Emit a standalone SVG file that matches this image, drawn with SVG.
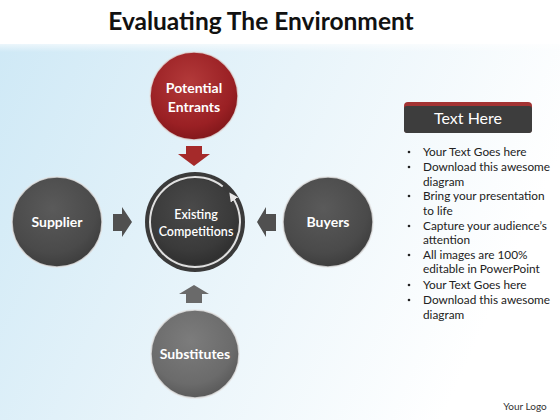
<svg xmlns="http://www.w3.org/2000/svg" width="560" height="420" viewBox="0 0 560 420">
<defs>
<linearGradient id="bg" x1="0" y1="0" x2="1" y2="0.3">
<stop offset="0" stop-color="#cfe9f6"/>
<stop offset="0.5" stop-color="#e8f4fa"/>
<stop offset="1" stop-color="#ffffff"/>
</linearGradient>
<linearGradient id="topfade" x1="0" y1="0" x2="0" y2="1">
<stop offset="0" stop-color="#ffffff" stop-opacity="1"/>
<stop offset="1" stop-color="#ffffff" stop-opacity="0"/>
</linearGradient>
<radialGradient id="gRed" cx="0.45" cy="0.35" r="0.7">
<stop offset="0" stop-color="#b33a3a"/>
<stop offset="0.7" stop-color="#9a2024"/>
<stop offset="1" stop-color="#7c1518"/>
</radialGradient>
<radialGradient id="gDark" cx="0.45" cy="0.35" r="0.7">
<stop offset="0" stop-color="#5a5a5a"/>
<stop offset="0.7" stop-color="#4a4a4a"/>
<stop offset="1" stop-color="#3a3a3a"/>
</radialGradient>
<radialGradient id="gCenter" cx="0.45" cy="0.35" r="0.7">
<stop offset="0" stop-color="#4a4a4a"/>
<stop offset="0.7" stop-color="#3a3a3a"/>
<stop offset="1" stop-color="#2c2c2c"/>
</radialGradient>
<radialGradient id="gLight" cx="0.45" cy="0.35" r="0.7">
<stop offset="0" stop-color="#7c7c7c"/>
<stop offset="0.7" stop-color="#6b6b6b"/>
<stop offset="1" stop-color="#555555"/>
</radialGradient>
<marker id="ringHead" viewBox="0 0 10 10" refX="5" refY="5" markerWidth="4.5" markerHeight="4.5" orient="auto">
<path d="M0,0 L10,5 L0,10 Z" fill="#e8e8e8"/>
</marker>
</defs>
<style>
.title{font-family:Lato,"Liberation Sans",sans-serif;font-weight:bold;font-size:24.5px;fill:#111;}
.lbl{font-family:Lato,"Liberation Sans",sans-serif;font-weight:bold;font-size:14px;fill:#ffffff;text-anchor:middle;}
.lblc{font-family:Lato,"Liberation Sans",sans-serif;font-weight:600;font-size:12.5px;fill:#ffffff;text-anchor:middle;}
.rim{stroke:#e4e4e4;stroke-width:1.5;stroke-opacity:0.8;}
.blt{font-family:Lato,"Liberation Sans",sans-serif;font-size:11.8px;fill:#222;}
.dot{fill:#222;}
</style>
<rect x="0" y="0" width="560" height="420" fill="#ffffff"/>
<rect x="0" y="44" width="560" height="376" fill="url(#bg)"/>
<rect x="0" y="44" width="560" height="8" fill="url(#topfade)" opacity="0.6"/>
<text class="title" x="261" y="30" text-anchor="middle">Evaluating The Environment</text>

<g id="connectors">
<path d="M186,146 H202 V154 H210 L194,166 L178,154 H186 Z" fill="#a52a2a"/>
<path d="M113,214 H122 V207 L132,222 L122,237 V231 H113 Z" fill="#505050"/>
<path d="M276,214 H266 V207 L257,222 L266,237 V231 H276 Z" fill="#505050"/>
<path d="M186,303 H202 V294 H209 L194,285 L179,294 H186 Z" fill="#6a6a6a"/>
</g>

<g id="potential-entrants">
<circle cx="194" cy="96" r="44" fill="url(#gRed)" class="rim"/>
<text class="lbl" x="194" y="93">Potential</text>
<text class="lbl" x="194" y="112">Entrants</text>
</g>

<g id="supplier">
<circle cx="57" cy="222" r="45" fill="url(#gDark)" class="rim"/>
<text class="lbl" x="57" y="227">Supplier</text>
</g>

<g id="buyers">
<circle cx="328" cy="222" r="45" fill="url(#gDark)" class="rim"/>
<text class="lbl" x="328" y="227">Buyers</text>
</g>

<g id="substitutes">
<circle cx="195" cy="354" r="44" fill="url(#gLight)" class="rim"/>
<text class="lbl" x="195" y="359">Substitutes</text>
</g>

<g id="existing-competitions">
<circle cx="195" cy="222" r="50" fill="#3a3a3a"/>
<circle cx="195" cy="222" r="43" fill="url(#gCenter)"/>
<path d="M222.7,186.5 A45,45 0 1 0 231.9,196.2" fill="none" stroke="#e0e0e0" stroke-width="2" marker-end="url(#ringHead)"/>
<text class="lblc" x="196" y="219">Existing</text>
<text class="lblc" x="196" y="236">Competitions</text>
</g>

<g id="text-box">
<rect x="404" y="102" width="128" height="31" rx="4" fill="#a33333"/>
<rect x="404" y="106" width="128" height="27" rx="3" fill="#3d3d3d"/>
<text x="468" y="124" text-anchor="middle" style="font-family:Lato,'Liberation Sans',sans-serif;font-size:16px;fill:#ffffff;">Text Here</text>
</g>

<g id="bullets">
<circle class="dot" cx="409" cy="152" r="1.3"/>
<text class="blt" x="423" y="156">Your Text Goes here</text>
<circle class="dot" cx="409" cy="167" r="1.3"/>
<text class="blt" x="423" y="171">Download this awesome</text>
<text class="blt" x="423" y="186">diagram</text>
<circle class="dot" cx="409" cy="196" r="1.3"/>
<text class="blt" x="423" y="200">Bring your presentation</text>
<text class="blt" x="423" y="215">to life</text>
<circle class="dot" cx="409" cy="226" r="1.3"/>
<text class="blt" x="423" y="230">Capture your audience’s</text>
<text class="blt" x="423" y="244">attention</text>
<circle class="dot" cx="409" cy="255" r="1.3"/>
<text class="blt" x="423" y="259">All images are 100%</text>
<text class="blt" x="423" y="273">editable in PowerPoint</text>
<circle class="dot" cx="409" cy="285" r="1.3"/>
<text class="blt" x="423" y="289">Your Text Goes here</text>
<circle class="dot" cx="409" cy="300" r="1.3"/>
<text class="blt" x="423" y="304">Download this awesome</text>
<text class="blt" x="423" y="319">diagram</text>
</g>

<text x="525" y="410" text-anchor="middle" style="font-family:Lato,'Liberation Sans',sans-serif;font-size:10px;fill:#333;">Your Logo</text>
</svg>
